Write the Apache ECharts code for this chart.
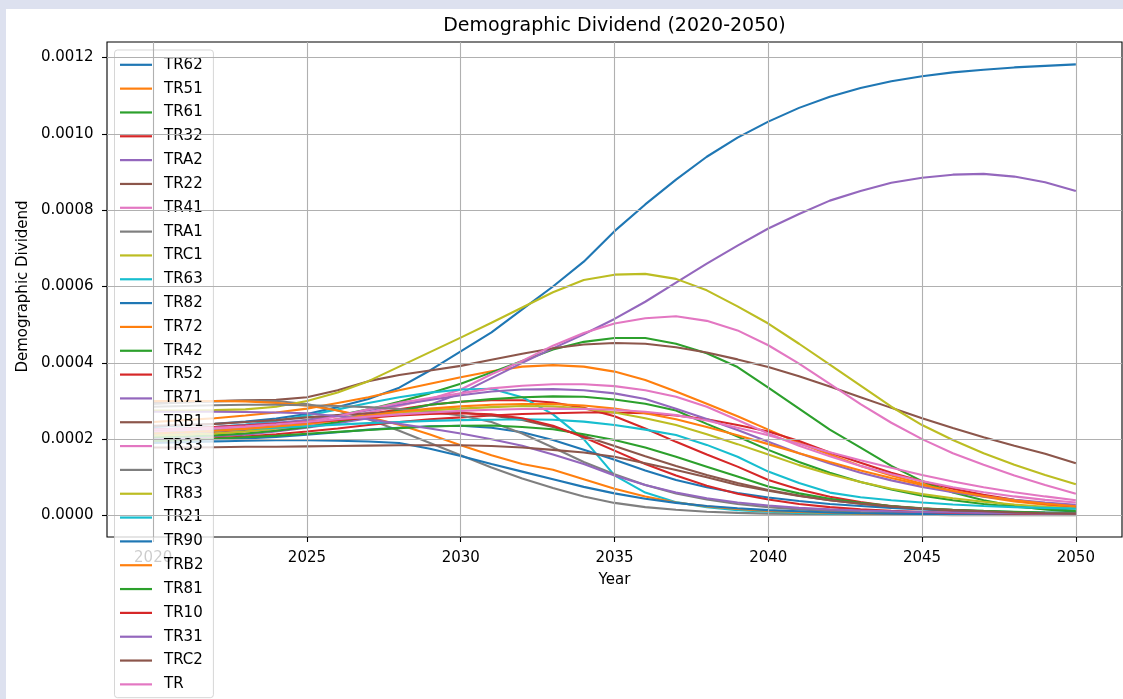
<!DOCTYPE html>
<html>
<head>
<meta charset="utf-8">
<script src="https://cdn.jsdelivr.net/npm/echarts/dist/echarts.min.js"></script>
<style>
  html, body { margin: 0; padding: 0; background: #ffffff; }
  #chart { width: 1123px; height: 699px; }
</style>
</head>
<body>
<div id="chart"></div>
<script>
// Projection years
const years = [2020, 2021, 2022, 2023, 2024, 2025, 2026, 2027, 2028, 2029, 2030,
               2031, 2032, 2033, 2034, 2035, 2036, 2037, 2038, 2039, 2040,
               2041, 2042, 2043, 2044, 2045, 2046, 2047, 2048, 2049, 2050];

// Axis ticks
const xTicks = [2020, 2025, 2030, 2035, 2040, 2045, 2050];
const yTicks = [0, 0.0002, 0.0004, 0.0006, 0.0008, 0.0010, 0.0012];

// Region codes, in plotting order
const seriesNames = ['TR62', 'TR51', 'TR61', 'TR32', 'TRA2', 'TR22', 'TR41', 'TRA1', 'TRC1',
  'TR63', 'TR82', 'TR72', 'TR42', 'TR52', 'TR71', 'TRB1', 'TR33', 'TRC3', 'TR83', 'TR21',
  'TR90', 'TRB2', 'TR81', 'TR10', 'TR31', 'TRC2', 'TR'];

// Demographic dividend per region, 2020..2050
const TR62 = [0.000232, 0.000236, 0.000240, 0.000246, 0.000254, 0.000266, 0.000284, 0.000305, 0.000335, 0.000380, 0.000430, 0.000480, 0.000540, 0.000600, 0.000665, 0.000745, 0.000815, 0.000880, 0.000940, 0.000990, 0.001032, 0.001068, 0.001097, 0.001120, 0.001138, 0.001151, 0.001161, 0.001168, 0.001174, 0.001178, 0.001182];
const TR51 = [0.000245, 0.000250, 0.000255, 0.000262, 0.000270, 0.000280, 0.000295, 0.000310, 0.000328, 0.000345, 0.000362, 0.000378, 0.000390, 0.000394, 0.000390, 0.000377, 0.000355, 0.000325, 0.000293, 0.000260, 0.000225, 0.000190, 0.000160, 0.000130, 0.000105, 0.000083, 0.000064, 0.000049, 0.000037, 0.000028, 0.000020];
const TR61 = [0.000215, 0.000218, 0.000222, 0.000228, 0.000237, 0.000250, 0.000262, 0.000278, 0.000298, 0.000320, 0.000345, 0.000375, 0.000405, 0.000435, 0.000455, 0.000465, 0.000465, 0.000450, 0.000425, 0.000389, 0.000335, 0.000280, 0.000225, 0.000178, 0.000130, 0.000090, 0.000060, 0.000040, 0.000025, 0.000016, 0.000010];
const TR32 = [0.000210, 0.000213, 0.000217, 0.000222, 0.000230, 0.000240, 0.000252, 0.000265, 0.000278, 0.000290, 0.000298, 0.000302, 0.000302, 0.000296, 0.000282, 0.000260, 0.000228, 0.000193, 0.000160, 0.000128, 0.000093, 0.000068, 0.000049, 0.000035, 0.000024, 0.000017, 0.000012, 0.000009, 0.000007, 0.000005, 0.000004];
const TRA2 = [0.000200, 0.000203, 0.000207, 0.000212, 0.000220, 0.000230, 0.000242, 0.000255, 0.000270, 0.000290, 0.000320, 0.000360, 0.000400, 0.000438, 0.000475, 0.000515, 0.000560, 0.000610, 0.000660, 0.000707, 0.000752, 0.000790, 0.000825, 0.000850, 0.000872, 0.000885, 0.000893, 0.000895, 0.000888, 0.000873, 0.000850];
const TR22 = [0.000295, 0.000297, 0.000300, 0.000302, 0.000303, 0.000310, 0.000328, 0.000352, 0.000368, 0.000380, 0.000392, 0.000408, 0.000424, 0.000438, 0.000448, 0.000452, 0.000450, 0.000441, 0.000427, 0.000409, 0.000389, 0.000365, 0.000338, 0.000310, 0.000282, 0.000255, 0.000229, 0.000205, 0.000183, 0.000162, 0.000137];
const TR41 = [0.000210, 0.000212, 0.000215, 0.000220, 0.000226, 0.000235, 0.000250, 0.000270, 0.000287, 0.000305, 0.000330, 0.000370, 0.000405, 0.000445, 0.000478, 0.000503, 0.000517, 0.000522, 0.000510, 0.000485, 0.000446, 0.000398, 0.000345, 0.000292, 0.000243, 0.000200, 0.000163, 0.000133, 0.000105, 0.000080, 0.000057];
const TRA1 = [0.000292, 0.000296, 0.000299, 0.000301, 0.000300, 0.000292, 0.000275, 0.000252, 0.000222, 0.000190, 0.000158, 0.000126, 0.000097, 0.000072, 0.000050, 0.000033, 0.000022, 0.000015, 0.000010, 0.000007, 0.000005, 0.000004, 0.000003, 0.000002, 0.000002, 0.000002, 0.000001, 0.000001, 0.000001, 0.000001, 0.000001];
const TRC1 = [0.000275, 0.000275, 0.000276, 0.000278, 0.000285, 0.000300, 0.000322, 0.000352, 0.000390, 0.000428, 0.000466, 0.000505, 0.000545, 0.000585, 0.000617, 0.000631, 0.000633, 0.000620, 0.000590, 0.000548, 0.000503, 0.000450, 0.000395, 0.000340, 0.000285, 0.000237, 0.000198, 0.000163, 0.000133, 0.000106, 0.000082];
const TR63 = [0.000225, 0.000228, 0.000232, 0.000238, 0.000248, 0.000262, 0.000278, 0.000295, 0.000310, 0.000322, 0.000330, 0.000332, 0.000310, 0.000265, 0.000200, 0.000105, 0.000060, 0.000035, 0.000022, 0.000014, 0.000010, 0.000007, 0.000005, 0.000004, 0.000003, 0.000003, 0.000002, 0.000002, 0.000002, 0.000002, 0.000002];
const TR82 = [0.000195, 0.000197, 0.000199, 0.000202, 0.000206, 0.000212, 0.000218, 0.000225, 0.000230, 0.000234, 0.000235, 0.000230, 0.000218, 0.000198, 0.000172, 0.000146, 0.000118, 0.000093, 0.000074, 0.000059, 0.000047, 0.000038, 0.000030, 0.000025, 0.000020, 0.000016, 0.000013, 0.000011, 0.000009, 0.000008, 0.000007];
const TR72 = [0.000300, 0.000300, 0.000300, 0.000299, 0.000295, 0.000288, 0.000275, 0.000258, 0.000238, 0.000212, 0.000184, 0.000158, 0.000135, 0.000120, 0.000095, 0.000070, 0.000050, 0.000034, 0.000024, 0.000017, 0.000012, 0.000009, 0.000007, 0.000005, 0.000004, 0.000003, 0.000003, 0.000002, 0.000002, 0.000002, 0.000002];
const TR42 = [0.000205, 0.000207, 0.000210, 0.000215, 0.000222, 0.000232, 0.000245, 0.000260, 0.000275, 0.000290, 0.000298, 0.000305, 0.000310, 0.000312, 0.000311, 0.000304, 0.000293, 0.000275, 0.000240, 0.000207, 0.000172, 0.000140, 0.000112, 0.000088, 0.000068, 0.000052, 0.000040, 0.000030, 0.000023, 0.000017, 0.000013];
const TR52 = [0.000195, 0.000198, 0.000202, 0.000207, 0.000213, 0.000220, 0.000228, 0.000237, 0.000245, 0.000252, 0.000257, 0.000262, 0.000266, 0.000268, 0.000270, 0.000270, 0.000268, 0.000262, 0.000252, 0.000237, 0.000220, 0.000195, 0.000165, 0.000138, 0.000112, 0.000090, 0.000070, 0.000054, 0.000041, 0.000031, 0.000023];
const TR71 = [0.000225, 0.000228, 0.000232, 0.000237, 0.000243, 0.000250, 0.000262, 0.000276, 0.000290, 0.000303, 0.000315, 0.000325, 0.000330, 0.000331, 0.000328, 0.000320, 0.000305, 0.000280, 0.000253, 0.000224, 0.000193, 0.000163, 0.000136, 0.000112, 0.000092, 0.000075, 0.000061, 0.000050, 0.000041, 0.000034, 0.000028];
const TRB1 = [0.000235, 0.000237, 0.000240, 0.000245, 0.000250, 0.000257, 0.000263, 0.000268, 0.000272, 0.000273, 0.000270, 0.000262, 0.000250, 0.000232, 0.000208, 0.000182, 0.000155, 0.000130, 0.000106, 0.000085, 0.000067, 0.000052, 0.000040, 0.000031, 0.000024, 0.000018, 0.000014, 0.000011, 0.000008, 0.000006, 0.000005];
const TR33 = [0.000220, 0.000222, 0.000225, 0.000230, 0.000237, 0.000245, 0.000260, 0.000278, 0.000295, 0.000308, 0.000320, 0.000333, 0.000340, 0.000344, 0.000344, 0.000339, 0.000328, 0.000311, 0.000285, 0.000250, 0.000215, 0.000183, 0.000155, 0.000130, 0.000108, 0.000090, 0.000074, 0.000061, 0.000050, 0.000041, 0.000034];
const TRC3 = [0.000285, 0.000287, 0.000289, 0.000290, 0.000290, 0.000289, 0.000287, 0.000284, 0.000279, 0.000272, 0.000262, 0.000245, 0.000215, 0.000178, 0.000140, 0.000108, 0.000080, 0.000058, 0.000042, 0.000030, 0.000022, 0.000016, 0.000012, 0.000009, 0.000007, 0.000005, 0.000004, 0.000003, 0.000003, 0.000003, 0.000003];
const TR83 = [0.000210, 0.000212, 0.000215, 0.000220, 0.000228, 0.000240, 0.000252, 0.000262, 0.000270, 0.000276, 0.000280, 0.000284, 0.000287, 0.000286, 0.000280, 0.000270, 0.000255, 0.000237, 0.000213, 0.000187, 0.000160, 0.000132, 0.000108, 0.000088, 0.000070, 0.000056, 0.000045, 0.000036, 0.000029, 0.000023, 0.000019];
const TR21 = [0.000215, 0.000218, 0.000222, 0.000226, 0.000230, 0.000234, 0.000238, 0.000242, 0.000245, 0.000248, 0.000250, 0.000251, 0.000252, 0.000251, 0.000246, 0.000237, 0.000225, 0.000211, 0.000185, 0.000154, 0.000115, 0.000085, 0.000060, 0.000048, 0.000040, 0.000034, 0.000029, 0.000025, 0.000022, 0.000020, 0.000018];
const TR90 = [0.000190, 0.000192, 0.000194, 0.000196, 0.000197, 0.000197, 0.000196, 0.000194, 0.000190, 0.000175, 0.000156, 0.000135, 0.000115, 0.000095, 0.000075, 0.000058, 0.000044, 0.000033, 0.000025, 0.000019, 0.000014, 0.000011, 0.000008, 0.000006, 0.000005, 0.000004, 0.000004, 0.000003, 0.000003, 0.000003, 0.000003];
const TRB2 = [0.000215, 0.000218, 0.000222, 0.000227, 0.000233, 0.000240, 0.000250, 0.000262, 0.000272, 0.000280, 0.000286, 0.000290, 0.000292, 0.000292, 0.000288, 0.000280, 0.000268, 0.000252, 0.000232, 0.000210, 0.000187, 0.000163, 0.000140, 0.000118, 0.000098, 0.000080, 0.000064, 0.000051, 0.000040, 0.000031, 0.000024];
const TR81 = [0.000195, 0.000198, 0.000201, 0.000205, 0.000209, 0.000214, 0.000219, 0.000224, 0.000229, 0.000233, 0.000235, 0.000236, 0.000232, 0.000226, 0.000213, 0.000198, 0.000178, 0.000154, 0.000128, 0.000102, 0.000076, 0.000058, 0.000044, 0.000033, 0.000025, 0.000019, 0.000015, 0.000012, 0.000010, 0.000008, 0.000007];
const TR10 = [0.000225, 0.000228, 0.000232, 0.000236, 0.000240, 0.000245, 0.000250, 0.000256, 0.000262, 0.000266, 0.000268, 0.000265, 0.000255, 0.000235, 0.000205, 0.000170, 0.000135, 0.000105, 0.000078, 0.000057, 0.000042, 0.000030, 0.000022, 0.000016, 0.000012, 0.000009, 0.000007, 0.000006, 0.000005, 0.000004, 0.000004];
const TR31 = [0.000272, 0.000272, 0.000272, 0.000271, 0.000270, 0.000268, 0.000260, 0.000252, 0.000240, 0.000228, 0.000215, 0.000200, 0.000183, 0.000160, 0.000135, 0.000105, 0.000080, 0.000060, 0.000045, 0.000034, 0.000026, 0.000020, 0.000016, 0.000013, 0.000011, 0.000009, 0.000008, 0.000007, 0.000006, 0.000005, 0.000005];
const TRC2 = [0.000178, 0.000178, 0.000179, 0.000180, 0.000180, 0.000181, 0.000182, 0.000183, 0.000184, 0.000184, 0.000184, 0.000182, 0.000178, 0.000172, 0.000165, 0.000154, 0.000137, 0.000119, 0.000100, 0.000080, 0.000065, 0.000051, 0.000040, 0.000031, 0.000024, 0.000018, 0.000014, 0.000011, 0.000008, 0.000006, 0.000005];
const TR = [0.000225, 0.000227, 0.000230, 0.000234, 0.000239, 0.000245, 0.000252, 0.000259, 0.000265, 0.000270, 0.000274, 0.000277, 0.000279, 0.000280, 0.000279, 0.000277, 0.000272, 0.000263, 0.000249, 0.000230, 0.000210, 0.000188, 0.000166, 0.000145, 0.000125, 0.000106, 0.000089, 0.000074, 0.000061, 0.000050, 0.000040];

const seriesValues = [TR62, TR51, TR61, TR32, TRA2, TR22, TR41, TRA1, TRC1,
  TR63, TR82, TR72, TR42, TR52, TR71, TRB1, TR33, TRC3, TR83, TR21,
  TR90, TRB2, TR81, TR10, TR31, TRC2, TR];

// tab10 colour cycle
const palette = ['#1f77b4', '#ff7f0e', '#2ca02c', '#d62728', '#9467bd',
                 '#8c564b', '#e377c2', '#7f7f7f', '#bcbd22', '#17becf'];

const FONT = 'DejaVu Sans';

// Frame (outer) box and data (inner) box, in pixels
const FRAME = { left: 107, top: 42, right: 1122, bottom: 537 };
const X_PAD = 1.5;                     // years of padding either side of 2020..2050
const yearPx = (FRAME.right - FRAME.left) / (years[years.length - 1] - years[0] + 2 * X_PAD);
const DATA = {
  left: FRAME.left + X_PAD * yearPx,
  right: FRAME.left + (years[years.length - 1] - years[0] + X_PAD) * yearPx,
  top: 57.5,
  bottom: 515.5
};
const yTop = yTicks[yTicks.length - 1];
const unitPx = (DATA.bottom - DATA.top) / yTop;

const chart = echarts.init(document.getElementById('chart'), null, { renderer: 'canvas' });

const lineSeries = seriesNames.map((name, i) => ({
  name: name,
  type: 'line',
  xAxisIndex: 1,
  yAxisIndex: 1,
  data: years.map((y, j) => [y, seriesValues[i][j]]),
  symbol: 'none',
  showSymbol: false,
  silent: true,
  clip: false,
  emphasis: { disabled: true },
  color: palette[i % 10],
  lineStyle: { width: 2.1, color: palette[i % 10] },
  itemStyle: { color: palette[i % 10] },
  z: 3
}));

// Grid lines spanning the whole frame
const gridSeries = {
  name: 'grid',
  type: 'line',
  xAxisIndex: 0,
  yAxisIndex: 0,
  data: [],
  silent: true,
  z: 1,
  markLine: {
    silent: true,
    symbol: ['none', 'none'],
    animation: false,
    precision: 10,
    label: { show: false },
    lineStyle: { color: '#b0b0b0', width: 1.1, type: 'solid' },
    emphasis: { disabled: true },
    data: xTicks.map(v => ({ xAxis: v })).concat(yTicks.map(v => ({ yAxis: v })))
  }
};

const axisText = { fontFamily: FONT, fontSize: 15, color: '#000' };

chart.setOption({
  animation: false,
  backgroundColor: '#ffffff',
  grid: [
    {
      left: FRAME.left, top: FRAME.top, right: 1123 - FRAME.right, bottom: 699 - FRAME.bottom,
      show: true, borderColor: '#000000', borderWidth: 1.1, backgroundColor: 'transparent'
    },
    {
      left: DATA.left, top: DATA.top, right: 1123 - DATA.right, bottom: 699 - DATA.bottom
    }
  ],
  xAxis: [
    {
      gridIndex: 0, type: 'value', show: false,
      min: years[0] - X_PAD, max: years[years.length - 1] + X_PAD
    },
    {
      gridIndex: 1, type: 'value', position: 'bottom',
      min: xTicks[0], max: xTicks[xTicks.length - 1], interval: 5,
      offset: FRAME.bottom - DATA.bottom,
      name: 'Year', nameLocation: 'middle', nameGap: 36,
      nameTextStyle: axisText,
      axisLine: { show: false, onZero: false },
      axisTick: { show: true, length: 5, lineStyle: { color: '#000', width: 1.1 } },
      axisLabel: Object.assign({ margin: 14, formatter: v => String(v) }, axisText),
      splitLine: { show: false }
    }
  ],
  yAxis: [
    {
      gridIndex: 0, type: 'value', show: false,
      min: -(FRAME.bottom - DATA.bottom) / unitPx,
      max: yTop + (DATA.top - FRAME.top) / unitPx
    },
    {
      gridIndex: 1, type: 'value', position: 'left',
      min: 0, max: yTop, interval: 0.0002,
      offset: DATA.left - FRAME.left,
      name: 'Demographic Dividend', nameLocation: 'middle', nameGap: 72, nameRotate: 90,
      nameTextStyle: axisText,
      axisLine: { show: false, onZero: false },
      axisTick: { show: true, length: 5, lineStyle: { color: '#000', width: 1.1 } },
      axisLabel: Object.assign({ margin: 13.5, padding: [4, 0, 0, 0], formatter: v => v.toFixed(4) }, axisText),
      splitLine: { show: false }
    }
  ],
  legend: {
    type: 'plain',
    orient: 'vertical',
    left: 114.5, top: 50, height: 690,
    data: seriesNames,
    selectedMode: false,
    icon: 'rect',
    itemWidth: 32, itemHeight: 2.2, itemGap: 3.83,
    padding: [4.8, 10, 3.3, 5.5],
    backgroundColor: 'rgba(255,255,255,0.8)',
    borderColor: 'rgba(204,204,204,0.8)', borderWidth: 1, borderRadius: 3,
    textStyle: { fontFamily: FONT, fontSize: 15, color: '#000', lineHeight: 17, padding: [3, 0, 0, 7] },
    z: 5
  },
  graphic: [
    { type: 'rect', silent: true, z: 100, shape: { x: 0, y: 0, width: 1123, height: 9 }, style: { fill: '#dde1ef' } },
    { type: 'rect', silent: true, z: 100, shape: { x: 0, y: 0, width: 6, height: 699 }, style: { fill: '#dde1ef' } },
    { type: 'text', silent: true, z: 10, x: (FRAME.left + FRAME.right) / 2, y: 26,
      style: { text: 'Demographic Dividend (2020-2050)', font: '19px "DejaVu Sans"', fill: '#000',
               align: 'center', verticalAlign: 'middle', textAlign: 'center', textVerticalAlign: 'middle' } }
  ],
  series: [gridSeries].concat(lineSeries)
});
</script>
</body>
</html>
